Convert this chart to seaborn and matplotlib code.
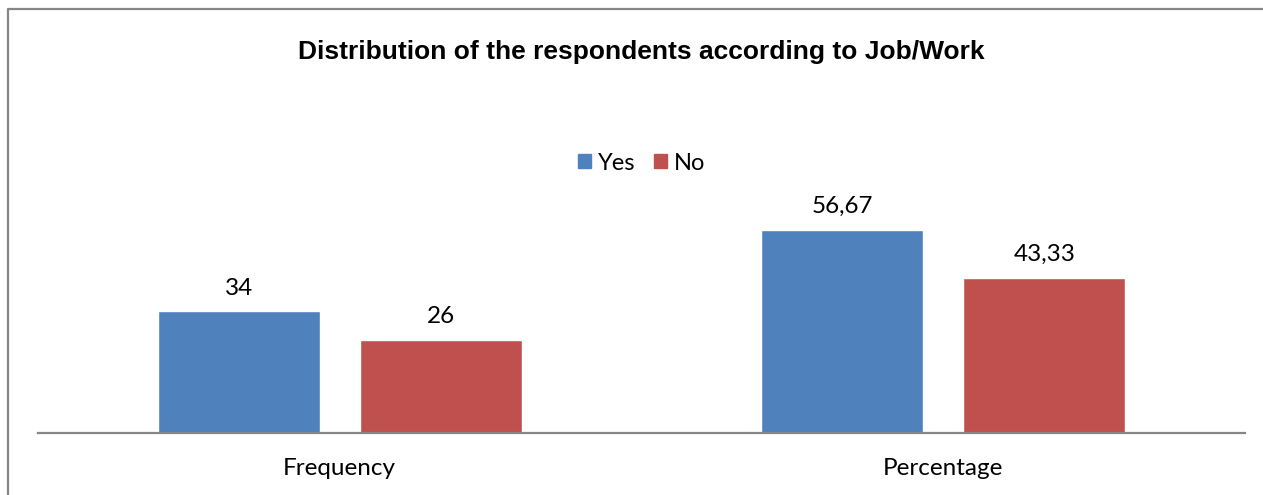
import matplotlib.pyplot as plt
import matplotlib.patches as mpatches
from matplotlib.lines import Line2D
import pandas as pd
import seaborn as sns

# Data
categories = ["Frequency", "Percentage"]
yes_values = [34, 56.67]
no_values = [26, 43.33]
yes_labels = ["34", "56,67"]
no_labels = ["26", "43,33"]

df = pd.DataFrame({
    "category": categories * 2,
    "answer": ["Yes"] * 2 + ["No"] * 2,
    "value": yes_values + no_values,
})

sns.set_style("white")
plt.rcParams['font.family'] = ['Lato', 'DejaVu Sans']
plt.rcParams['text.color'] = 'black'

fig = plt.figure(figsize=(12.63, 4.95), dpi=100)
ax = fig.add_axes([0.0301, 0.1253, 0.9556, 0.507])

sns.barplot(data=df, x="category", y="value", hue="answer",
            palette={"Yes": "#4F81BD", "No": "#C0504D"},
            width=0.67, gap=0.2, ax=ax, legend=False, saturation=1)

ax.set_ylim(0, 70)
ax.set_xlim(-0.5, 1.5)
ax.set_xlabel("")
ax.set_ylabel("")
ax.set_yticks([])
ax.tick_params(axis='x', length=0, labelsize=17.5, pad=18, colors='black')
for side in ["top", "right", "left"]:
    ax.spines[side].set_visible(False)
ax.spines["bottom"].set_color("#868686")
ax.spines["bottom"].set_linewidth(1.6)

# Value labels above bars
ax.bar_label(ax.containers[0], labels=yes_labels, padding=9, fontsize=17.5, color='black')
ax.bar_label(ax.containers[1], labels=no_labels, padding=9, fontsize=17.5, color='black')

# Title
fig.text(0.508, 0.894, "Distribution of the respondents according to Job/Work",
         ha='center', va='center', fontsize=19, fontweight='bold', color='black',
         family=['Liberation Sans', 'DejaVu Sans'])

# Legend
handles = [mpatches.Patch(color="#4F81BD", label="Yes"),
           mpatches.Patch(color="#C0504D", label="No")]
fig.legend(handles=handles, loc='center', bbox_to_anchor=(0.508, 0.6707),
           ncol=2, frameon=False, fontsize=17, handlelength=0.55,
           handleheight=0.55, handletextpad=0.3, columnspacing=0.8)

# Outer chart border (only left and top visible in the crop)
x0 = 8 / 1263
y0 = 1 - 9 / 495
fig.add_artist(Line2D([x0, x0], [0, y0], transform=fig.transFigure,
                      color="#868686", linewidth=1.6))
fig.add_artist(Line2D([x0, 1.0], [y0, y0], transform=fig.transFigure,
                      color="#868686", linewidth=1.6, solid_capstyle='butt'))

fig.savefig("out.png", dpi=100)
